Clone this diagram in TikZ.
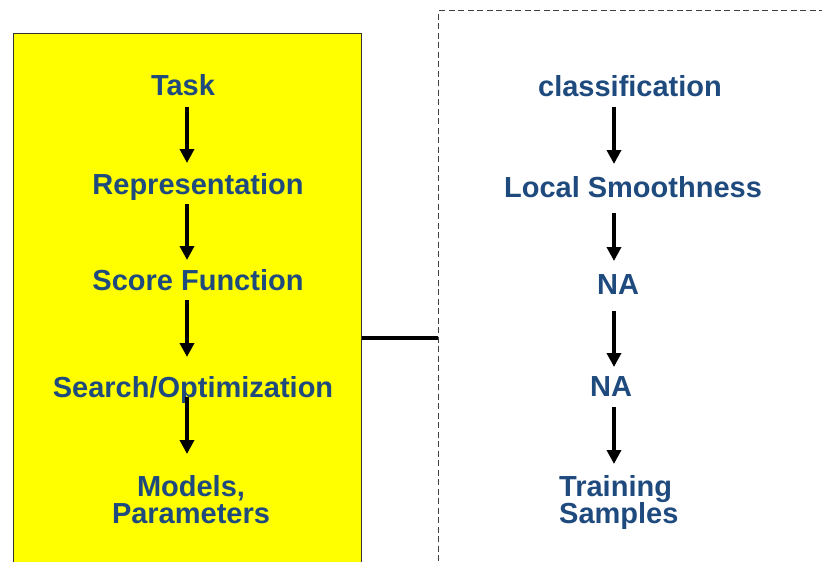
\documentclass[tikz,border=0pt]{standalone}
\usepackage{fontspec}
\setmainfont{Liberation Sans}
\usetikzlibrary{arrows.meta}
\definecolor{lbl}{HTML}{1F4A7E}
\definecolor{boxedge}{HTML}{333333}
\definecolor{dashedge}{HTML}{404040}
\definecolor{ybg}{RGB}{255,255,0}
\begin{document}
\begin{tikzpicture}[x=1pt,y=-1pt,
  lbl/.style={text=lbl,font=\fontsize{29}{27.5}\selectfont\bfseries,inner sep=0pt},
  arr/.style={line width=3.6pt,-{Triangle[width=14pt,length=14pt]}},
  ybox/.style={draw=boxedge,fill=ybg,line width=1pt,minimum width=348pt,minimum height=600pt,anchor=north west,inner sep=0pt},
  dbox/.style={draw=dashedge,dash pattern=on 6pt off 3.5pt,line width=1.4pt,minimum width=420pt,minimum height=620pt,anchor=north west,inner sep=0pt}]
\useasboundingbox (0,0) rectangle (822,562);
\clip (0,0) rectangle (822,562);
\fill[white] (0,0) rectangle (822,562);
\node[ybox] (yb) at (13,33) {};
\node[dbox] (db) at (438,10) {};
\coordinate (cy) at (0,338);
\draw[line width=4pt] (yb.east |- cy) -- (db.west |- cy);
% left column
\node[lbl,anchor=base] (task) at (183,95) {Task};
\node[lbl,anchor=base] (rep) at (198,194) {Representation};
\node[lbl,anchor=base] (score) at (198,290) {Score Function};
\node[lbl,anchor=base] (search) at (193,397) {Search/Optimization};
\node[lbl,anchor=north,align=center] (models) at (191,475) {Models,\\Parameters};
% right column
\node[lbl,anchor=base] (cls) at (630,96) {classification};
\node[lbl,anchor=base] (ls) at (633,197) {Local Smoothness};
\node[lbl,anchor=base] (na1) at (618,294) {NA};
\node[lbl,anchor=base] (na2) at (611,396) {NA};
\node[lbl,anchor=north west,align=left] (ts) at (559,475) {Training\\Samples};
% arrow ends
\coordinate (l1a) at (187,107); \coordinate (l1b) at (187,163);
\coordinate (l2a) at (187,204); \coordinate (l2b) at (187,260);
\coordinate (l3a) at (187,300); \coordinate (l3b) at (187,357);
\coordinate (l4a) at (187,397); \coordinate (l4b) at (187,454);
\coordinate (r1a) at (614,107); \coordinate (r1b) at (614,164);
\coordinate (r2a) at (614,213); \coordinate (r2b) at (614,261);
\coordinate (r3a) at (614,311); \coordinate (r3b) at (614,367);
\coordinate (r4a) at (614,407); \coordinate (r4b) at (614,464);
\foreach \p in {l1,l2,l3,l4,r1,r2,r3,r4}{\draw[arr] (\p a) -- (\p b);}
\end{tikzpicture}
\end{document}
